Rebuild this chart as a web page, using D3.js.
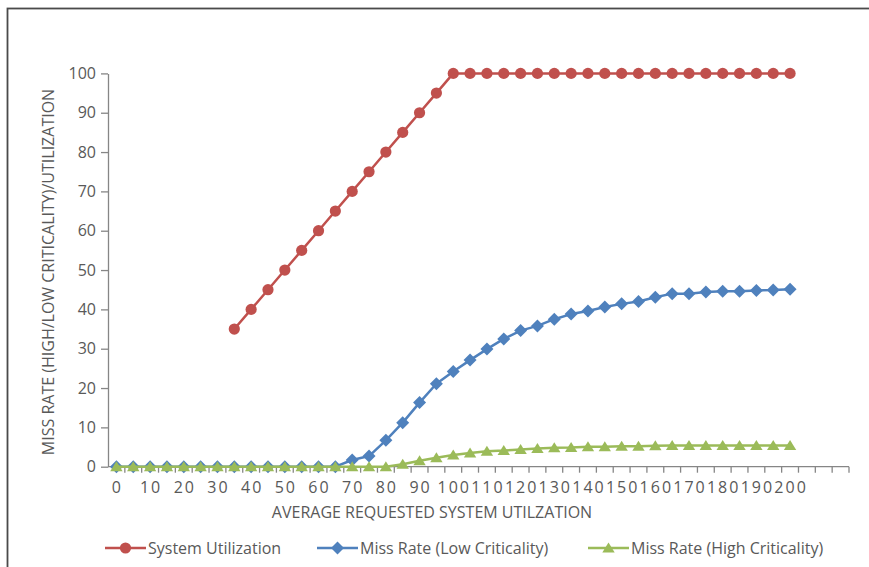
<!DOCTYPE html>
<html>
<head>
<meta charset="utf-8">
<script src="https://cdn.jsdelivr.net/npm/d3@7/dist/d3.min.js"></script>
<style>
  html, body { margin: 0; padding: 0; background: #fff; }
  svg { display: block; font-family: "Open Sans", Lato, sans-serif; }
</style>
</head>
<body>
<svg id="chart" width="869" height="567"></svg>
<script>
// Requested utilization categories (the axis carries a few empty slots past 200)
const categories = [0,5,10,15,20,25,30,35,40,45,50,55,60,65,70,75,80,85,90,95,100,
  105,110,115,120,125,130,135,140,145,150,155,160,165,170,175,180,185,190,195,200,205,210,215];

// Requested utilization values that carry data
const dataX = [0,5,10,15,20,25,30,35,40,45,50,55,60,65,70,75,80,85,90,95,100,
  105,110,115,120,125,130,135,140,145,150,155,160,165,170,175,180,185,190,195,200];

const systemUtilization = [null,null,null,null,null,null,null,35,40,45,50,55,60,65,70,75,80,85,90,95,100,
  100,100,100,100,100,100,100,100,100,100,100,100,100,100,100,100,100,100,100,100];

const missRateLow = [0,0,0,0,0,0,0,0,0,0,0,0,0,0,1.7,2.7,6.7,11.2,16.3,21.1,24.2,
  27.1,29.9,32.5,34.6,35.8,37.5,38.8,39.6,40.6,41.4,42.0,43.1,44.0,44.0,44.4,44.6,44.6,44.8,44.9,45.1];

const missRateHigh = [0,0,0,0,0,0,0,0,0,0,0,0,0,0,0,0,0,0.6,1.5,2.3,3.0,
  3.5,3.9,4.1,4.4,4.6,4.8,4.9,5.1,5.1,5.2,5.2,5.3,5.4,5.4,5.4,5.4,5.4,5.4,5.4,5.4];

const yTicks = [0,10,20,30,40,50,60,70,80,90,100];
const xTickLabels = [0,10,20,30,40,50,60,70,80,90,100,110,120,130,140,150,160,170,180,190,200];

const series = [
  { name: "System Utilization", values: systemUtilization, color: "#C0504D", marker: "circle" },
  { name: "Miss Rate (Low Criticality)", values: missRateLow, color: "#4F81BD", marker: "diamond" },
  { name: "Miss Rate (High Criticality)", values: missRateHigh, color: "#9BBB59", marker: "triangle" }
];

const svg = d3.select("#chart");
const textColor = "#595959";
const axisColor = "#868686";

// chart frame
svg.append("rect")
  .attr("x", 7.5).attr("y", 8.5).attr("width", 900).attr("height", 600)
  .attr("fill", "none").attr("stroke", "#4a4a4a").attr("stroke-width", 1.8);

const plot = { left: 108, right: 849, top: 73.4, bottom: 466.7 };

const x = d3.scaleBand().domain(categories).range([plot.left, plot.right]);
const cx = v => x(v) + x.bandwidth() / 2;
const y = d3.scaleLinear().domain([0, 100]).range([plot.bottom, plot.top]);

// y axis
const yAxis = svg.append("g")
  .attr("transform", `translate(${plot.left},0)`)
  .call(d3.axisLeft(y).tickValues(yTicks).tickSizeInner(7).tickSizeOuter(0).tickPadding(5));
yAxis.select(".domain").attr("stroke", axisColor).attr("stroke-width", 1.3);
yAxis.selectAll(".tick line").attr("stroke", axisColor).attr("stroke-width", 1.3);
yAxis.selectAll(".tick text").attr("fill", textColor).attr("font-size", 16)
  .attr("font-family", "'Open Sans', sans-serif");

// x axis line with ticks at category boundaries
const xAxis = svg.append("g");
xAxis.append("line")
  .attr("x1", plot.left).attr("x2", plot.right)
  .attr("y1", plot.bottom).attr("y2", plot.bottom)
  .attr("stroke", axisColor).attr("stroke-width", 1.3);
xAxis.selectAll("line.tick")
  .data(categories.slice(1).map(c => x(c)).concat([plot.right]))
  .join("line").attr("class", "tick")
  .attr("x1", d => d).attr("x2", d => d)
  .attr("y1", plot.bottom).attr("y2", plot.bottom + 6)
  .attr("stroke", axisColor).attr("stroke-width", 1.3);
const xLetterSpacing = 2.0;
xAxis.selectAll("text")
  .data(xTickLabels)
  .join("text")
  .attr("x", d => cx(d) + xLetterSpacing / 2)
  .attr("y", plot.bottom + 26)
  .attr("text-anchor", "middle")
  .attr("fill", textColor)
  .attr("font-size", 16)
  .attr("letter-spacing", xLetterSpacing)
  .text(d => d);

// axis titles
svg.append("text")
  .attr("x", 432).attr("y", 518)
  .attr("text-anchor", "middle")
  .attr("fill", textColor)
  .attr("font-size", 16)
  .text("AVERAGE REQUESTED SYSTEM UTILZATION");

svg.append("text")
  .attr("transform", `translate(54,272) rotate(-90)`)
  .attr("text-anchor", "middle")
  .attr("fill", textColor)
  .attr("font-size", 16)
  .text("MISS RATE (HIGH/LOW CRITICALITY)/UTILIZATION");

// marker shapes
function drawMarker(sel, type, color) {
  if (type === "circle") {
    sel.append("circle").attr("r", 5.6).attr("fill", color);
  } else if (type === "diamond") {
    sel.append("path").attr("d", "M0,-6.5L6.5,0L0,6.5L-6.5,0Z").attr("fill", color);
  } else {
    sel.append("path").attr("d", "M0,-5.5L6.2,4.5L-6.2,4.5Z").attr("fill", color);
  }
}

const line = d3.line()
  .defined(d => d.v !== null)
  .x(d => cx(d.x))
  .y(d => y(d.v));

series.forEach(s => {
  const pts = dataX.map((xv, i) => ({ x: xv, v: s.values[i] }));
  const g = svg.append("g");
  g.append("path")
    .datum(pts)
    .attr("d", line)
    .attr("fill", "none")
    .attr("stroke", s.color)
    .attr("stroke-width", 2.5)
    .attr("stroke-linejoin", "round");
  g.selectAll("g.m")
    .data(pts.filter(d => d.v !== null))
    .join("g").attr("class", "m")
    .attr("transform", d => `translate(${cx(d.x)},${y(d.v)})`)
    .each(function () { drawMarker(d3.select(this), s.marker, s.color); });
});

// legend
const legendX = [105, 317, 588];
const legendY = 548;
series.forEach((s, i) => {
  const g = svg.append("g").attr("transform", `translate(${legendX[i]},${legendY})`);
  g.append("line").attr("x1", 0).attr("x2", 41).attr("y1", 0).attr("y2", 0)
    .attr("stroke", s.color).attr("stroke-width", 2.5);
  const m = g.append("g").attr("transform", "translate(20.5,0)");
  drawMarker(m, s.marker, s.color);
  g.append("text").attr("x", 43).attr("y", 5.8)
    .attr("fill", textColor).attr("font-size", 16)
    .text(s.name);
});
</script>
</body>
</html>
